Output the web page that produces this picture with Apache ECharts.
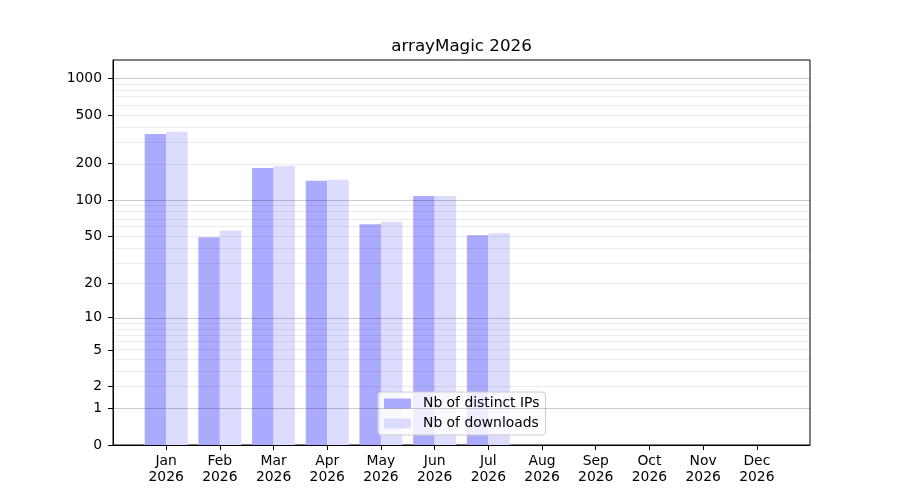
<!DOCTYPE html>
<html>
<head>
<meta charset="utf-8">
<script src="https://cdn.jsdelivr.net/npm/echarts@6/dist/echarts.min.js"></script>
<style>
  html, body { margin: 0; padding: 0; background: #fff; }
  #chart { width: 900px; height: 500px; }
</style>
</head>
<body>
<div id="chart"></div>
<script>
const months = ["Jan", "Feb", "Mar", "Apr", "May", "Jun", "Jul", "Aug", "Sep", "Oct", "Nov", "Dec"]
const year = "2026"
const distinctIPs = [350, 49, 184, 144, 63, 108, 51, 0, 0, 0, 0, 0]
const downloads = [364, 56, 191, 147, 66, 108, 53, 0, 0, 0, 0, 0]
const yTicks = [0, 1, 2, 5, 10, 20, 50, 100, 200, 500, 1000]
const majorGrid = [1, 10, 100, 1000]
const minorGrid = [2, 3, 4, 5, 6, 7, 8, 9, 20, 30, 40, 50, 60, 70, 80, 90,
    200, 300, 400, 500, 600, 700, 800, 900]

const FONT = "DejaVu Sans"

// y scale is log10(1 + v)
function tr(v) {
    return Math.log10(1 + v)
}

function barSeries(name, values, offset, color) {
    return {
        name: name,
        type: "custom",
        itemStyle: { color: color },
        z: 2,
        renderItem: (params, api) => {
            let x = api.value(0), y = api.value(1)
            let p0 = api.coord([x + offset - 0.2, y])
            let p1 = api.coord([x + offset + 0.2, 0])
            return {
                type: "rect",
                shape: { x: p0[0], y: p0[1], width: p1[0] - p0[0], height: p1[1] - p0[1] },
                style: { fill: color }
            }
        },
        encode: { x: 0, y: 1 },
        data: values.map((v, i) => [i, tr(v)])
    }
}

function gridLines(values, color) {
    return {
        type: "line",
        data: [],
        silent: true,
        z: 5,
        markLine: {
            silent: true,
            symbol: "none",
            label: { show: false },
            animation: false,
            lineStyle: { color: color, type: "solid", width: 1 },
            data: values.map(v => ({ yAxis: tr(v) }))
        }
    }
}

const chart = echarts.init(document.getElementById("chart"))
chart.setOption({
    animation: false,
    textStyle: { fontFamily: FONT },
    title: {
        text: "arrayMagic " + year,
        left: 456.5,
        top: 33,
        textAlign: "center",
        textStyle: { fontFamily: FONT, fontSize: 16.7, fontWeight: "normal", color: "#000" }
    },
    grid: {
        left: 113, right: 90, top: 60, bottom: 55,
        show: true, borderColor: "#000", borderWidth: 1, backgroundColor: "transparent"
    },
    legend: {
        orient: "vertical",
        left: 378,
        top: 392,
        data: ["Nb of distinct IPs", "Nb of downloads"],
        icon: "rect",
        itemWidth: 27,
        itemHeight: 10,
        itemGap: 5,
        padding: [4, 6, 4, 6],
        backgroundColor: "rgba(255,255,255,0.8)",
        borderColor: "#cccccc",
        borderWidth: 1,
        borderRadius: 3,
        textStyle: { fontFamily: FONT, fontSize: 13.9, color: "#000", padding: [0, 0, 0, 7], lineHeight: 15 }
    },
    xAxis: {
        type: "value",
        min: -0.99,
        max: 11.99,
        axisLine: { show: true, onZero: false, lineStyle: { color: "#000" } },
        axisTick: { show: true, length: 5, customValues: months.map((m, i) => i), lineStyle: { color: "#000" } },
        axisLabel: {
            customValues: months.map((m, i) => i),
            formatter: v => months[v] + "\n" + year,
            color: "#000",
            fontFamily: FONT,
            fontSize: 13.9,
            lineHeight: 16,
            margin: 8
        },
        splitLine: { show: false }
    },
    yAxis: {
        type: "value",
        min: 0,
        max: 3.15,
        axisLine: { show: true, onZero: false, lineStyle: { color: "#000" } },
        axisTick: { show: true, length: 5, customValues: yTicks.map(tr), lineStyle: { color: "#000" } },
        axisLabel: {
            customValues: yTicks.map(tr),
            formatter: v => String(Math.round(Math.pow(10, v) - 1)),
            color: "#000",
            fontFamily: FONT,
            fontSize: 13.9,
            margin: 11
        },
        splitLine: { show: false }
    },
    series: [
        barSeries("Nb of distinct IPs", distinctIPs, -0.2, "#aaaaff"),
        barSeries("Nb of downloads", downloads, 0.2, "#dcdcff"),
        gridLines(minorGrid, "rgba(0,0,0,0.075)"),
        gridLines(majorGrid, "rgba(0,0,0,0.2)")
    ]
})
</script>
</body>
</html>
